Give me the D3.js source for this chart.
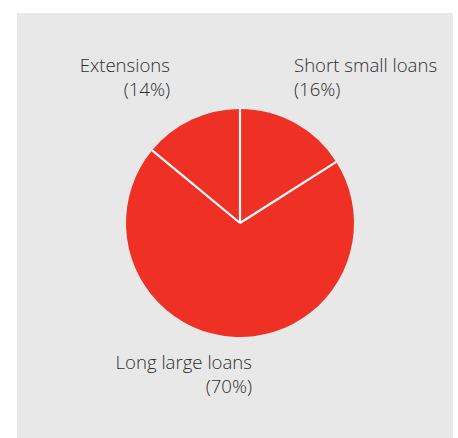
<!DOCTYPE html>
<html>
<head>
<meta charset="utf-8">
<script src="https://cdn.jsdelivr.net/npm/d3@7"></script>
<style>
  html, body { margin: 0; padding: 0; background: #ffffff; }
  svg { display: block; }
  text { font-family: "Open Sans", Lato, sans-serif; font-weight: 300; fill: #2e2e2e; }
</style>
</head>
<body>
<svg id="chart" width="458" height="438"></svg>
<script>
// Loan mix by product type (share of total, %)
const categories = ["Short small loans", "Long large loans", "Extensions"];
const shares = [16, 70, 14];
// label anchor side for each slice
const labelAnchors = ["start", "end", "end"];

const W = 458, H = 438;
const svg = d3.select("#chart");

// panel background
svg.append("rect")
  .attr("x", 17).attr("y", 13)
  .attr("width", 436).attr("height", H - 13)
  .attr("fill", "#e8e8e8");

const cx = 240, cy = 223, r = 114;

const pie = d3.pie().sort(null).value(d => d.value);
const arcs = pie(categories.map((c, i) => ({ name: c, value: shares[i], anchor: labelAnchors[i] })));
const arc = d3.arc().innerRadius(0).outerRadius(r);

const g = svg.append("g").attr("transform", `translate(${cx},${cy})`);

g.selectAll("path.slice")
  .data(arcs)
  .join("path")
  .attr("class", "slice")
  .attr("d", arc)
  .attr("fill", "#ee3124");

// white separators from the centre to each slice boundary
g.selectAll("line.sep")
  .data(arcs)
  .join("line")
  .attr("class", "sep")
  .attr("x1", 0).attr("y1", 0)
  .attr("x2", d => r * Math.sin(d.startAngle))
  .attr("y2", d => -r * Math.cos(d.startAngle))
  .attr("stroke", "#ffffff")
  .attr("stroke-width", 2.2);

// labels placed outside the pie
const labelPos = [
  { x: 294, y: 72 },
  { x: 252, y: 369 },
  { x: 170, y: 72 }
];

const labels = svg.selectAll("text.lbl")
  .data(arcs)
  .join("text")
  .attr("class", "lbl")
  .attr("text-anchor", d => d.data.anchor)
  .attr("font-size", 18.6);

labels.append("tspan")
  .attr("x", (d, i) => labelPos[i].x)
  .attr("y", (d, i) => labelPos[i].y)
  .text(d => d.data.name);

labels.append("tspan")
  .attr("x", (d, i) => labelPos[i].x)
  .attr("y", (d, i) => labelPos[i].y + 23.5)
  .text(d => `(${d.data.value}%)`);
</script>
</body>
</html>
